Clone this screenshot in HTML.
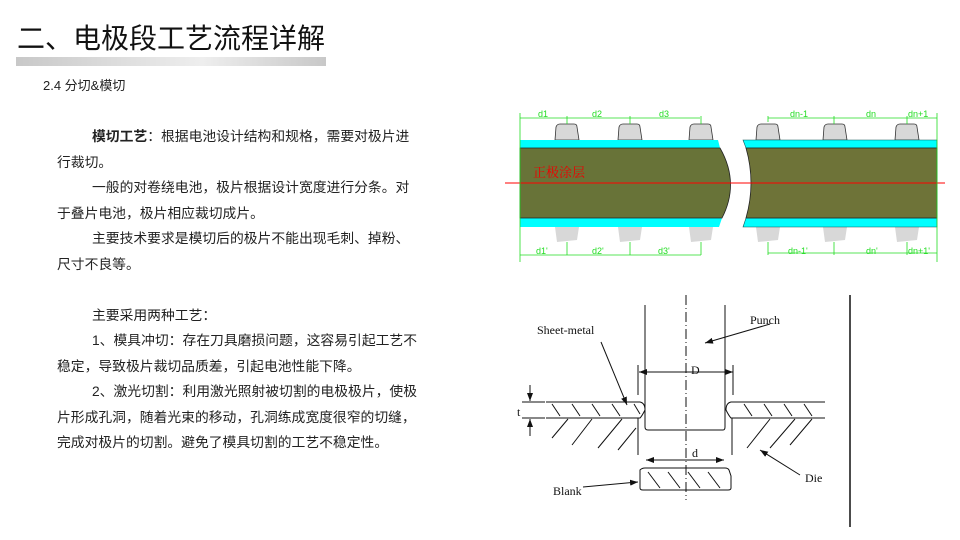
<!DOCTYPE html>
<html><head><meta charset="utf-8"><style>
body{margin:0;width:960px;height:540px;background:#fff;overflow:hidden;position:relative;font-family:"Liberation Sans","Noto Sans CJK SC",sans-serif;}
.t{position:absolute;left:17px;top:17px;font-size:28px;color:#111;}
.bar{position:absolute;left:16px;top:57px;width:310px;height:9px;background:linear-gradient(90deg,#c8c8c8,#eee 60%,#c8c8c8);}
.s{position:absolute;left:43px;top:75px;font-size:13px;color:#222;}
.b{position:absolute;left:57px;top:124px;width:364px;font-size:13.8px;line-height:25.5px;color:#222;}
.b p{margin:0;text-indent:35px;}
</style></head><body>
<div class="t">二、电极段工艺流程详解</div>
<div class="bar"></div>
<div class="s">2.4 分切&amp;模切</div>
<div class="b">
<p><b>模切工艺</b>：根据电池设计结构和规格，需要对极片进行裁切。</p>
<p>一般的对卷绕电池，极片根据设计宽度进行分条。对于叠片电池，极片相应裁切成片。</p>
<p>主要技术要求是模切后的极片不能出现毛刺、掉粉、尺寸不良等。</p>
<p>&nbsp;</p>
<p>主要采用两种工艺：</p>
<p>1、模具冲切：存在刀具磨损问题，这容易引起工艺不稳定，导致极片裁切品质差，引起电池性能下降。</p>
<p>2、激光切割：利用激光照射被切割的电极极片，使极片形成孔洞，随着光束的移动，孔洞练成宽度很窄的切缝，完成对极片的切割。避免了模具切割的工艺不稳定性。</p>
</div>
<svg width="960" height="540" style="position:absolute;left:0;top:0" font-family="Liberation Sans, sans-serif">
<defs><marker id="a" markerWidth="8" markerHeight="6" refX="8" refY="3" orient="auto" markerUnits="userSpaceOnUse"><path d="M0,0 L8,3 L0,6Z" fill="#111"/></marker></defs>
<g fill="#d8d8d8" stroke="#333" stroke-width="0.8">
<path d="M555,140 L556,127 Q557,124 560,124 L574,124 Q577,124 577,127 L579,140Z"/>
<path d="M618,140 L619,127 Q620,124 623,124 L637,124 Q640,124 640,127 L642,140Z"/>
<path d="M689,140 L690,127 Q691,124 694,124 L708,124 Q711,124 711,127 L713,140Z"/>
<path d="M756,140 L757,127 Q758,124 761,124 L775,124 Q778,124 778,127 L780,140Z"/>
<path d="M823,140 L824,127 Q825,124 828,124 L842,124 Q845,124 845,127 L847,140Z"/>
<path d="M895,140 L896,127 Q897,124 900,124 L914,124 Q917,124 917,127 L919,140Z"/>
</g>
<g fill="#d8d8d8">
<path d="M555,227 L579,227 L577,240 L557,242Z"/><path d="M618,227 L642,227 L640,240 L620,242Z"/><path d="M689,227 L713,227 L711,240 L691,242Z"/>
<path d="M756,227 L780,227 L778,240 L758,242Z"/><path d="M823,227 L847,227 L845,240 L825,242Z"/><path d="M895,227 L919,227 L917,240 L897,242Z"/>
</g>
<path d="M520,140 L718,140 L720,148 L520,148Z" fill="#00ffff"/>
<path d="M520,218 L722,218 L719,227 L520,227Z" fill="#00ffff"/>
<path d="M520,148 L720,148 Q740,183 722,218 L520,218Z" fill="#687338" stroke="#222" stroke-width="0.8"/>
<path d="M743,140 L937,140 L937,148 L746,148Z" fill="#00ffff" stroke="#155" stroke-width="0.6"/>
<path d="M746,218 L937,218 L937,227 L743,227Z" fill="#00ffff" stroke="#155" stroke-width="0.6"/>
<path d="M746,148 L937,148 L937,218 L746,218 Q756,183 746,148Z" fill="#6e7338" stroke="#222" stroke-width="0.8"/>
<line x1="505" y1="183" x2="945" y2="183" stroke="#f00" stroke-width="1"/>
<text x="533" y="177" font-size="13" fill="#e00" font-family="Noto Serif CJK SC, serif">正极涂层</text>
<g stroke="#2d2" stroke-width="0.8" fill="none">
<path d="M520,113 V262 M520,118 H700 M567,116 V124 M630,116 V124 M701,116 V124"/>
<path d="M768,118 H937 M768,116 V122 M834,116 V124 M907,116 V124 M937,113 V262"/>
<path d="M520,255 H701 M567,242 V255 M630,242 V255 M701,242 V255"/>
<path d="M768,253 H937 M768,242 V255 M834,242 V255 M907,242 V255"/>
</g>
<g fill="#2d2" font-size="9">
<text x="538" y="117">d1</text><text x="592" y="117">d2</text><text x="659" y="117">d3</text>
<text x="790" y="117">dn-1</text><text x="866" y="117">dn</text><text x="908" y="117">dn+1</text>
<text x="536" y="254">d1'</text><text x="592" y="254">d2'</text><text x="658" y="254">d3'</text>
<text x="788" y="254">dn-1'</text><text x="866" y="254">dn'</text><text x="908" y="254">dn+1'</text>
</g>
<g stroke="#111" stroke-width="1" fill="none">
<line x1="686" y1="295" x2="686" y2="500" stroke-dasharray="10,3,1,3"/>
<path d="M645,305 V427 Q645,430 648,430 H723 Q725,430 725,427 V305"/>
<path d="M546,402 H640 Q645,403 645,410 Q642,416 640,418 H546"/>
<path d="M825,402 H731 Q726,403 726,410 Q729,416 731,418 H825"/>
<path d="M638,418 V455 M732,418 V455"/>
<path d="M640,470 Q642,468 645,468 H725 Q728,468 729,470 L731,476 V488 Q731,490 728,490 H643 Q640,490 640,488 V476Z"/>
<path d="M638,365 V395 M733,365 V395"/>
<path d="M686,372 H639" marker-end="url(#a)"/><path d="M686,372 H733" marker-end="url(#a)"/>
<path d="M686,460 H646" marker-end="url(#a)"/><path d="M686,460 H724" marker-end="url(#a)"/>
<path d="M530,385 V401" marker-end="url(#a)"/><path d="M530,436 V419" marker-end="url(#a)"/>
<path d="M522,402 H545 M522,418 H545"/>
<path d="M850,295 V527" stroke-width="1.5"/>
<path d="M560,416 L552,404 M580,416 L572,404 M600,416 L592,404 M620,416 L612,404 M640,414 L634,404"/>
<path d="M752,416 L744,404 M772,416 L764,404 M792,416 L784,404 M812,416 L804,404"/>
<path d="M552,438 L568,419 M572,445 L592,419 M598,448 L622,419 M618,450 L636,428"/>
<path d="M747,448 L770,419 M770,448 L795,419 M790,445 L812,419"/>
<path d="M660,488 L648,472 M680,488 L668,472 M700,488 L688,472 M720,488 L708,472"/>
<path d="M601,342 L627,405" marker-end="url(#a)"/><path d="M770,324 L705,343" marker-end="url(#a)"/>
<path d="M800,475 L760,450" marker-end="url(#a)"/><path d="M583,487 L638,482" marker-end="url(#a)"/>
</g>
<g font-family="Liberation Serif, serif" font-size="12" fill="#111">
<text x="537" y="334">Sheet-metal</text><text x="750" y="324">Punch</text>
<text x="691" y="374">D</text><text x="692" y="457">d</text><text x="517" y="416">t</text>
<text x="553" y="495">Blank</text><text x="805" y="482">Die</text>
</g>
</svg>
</body></html>
